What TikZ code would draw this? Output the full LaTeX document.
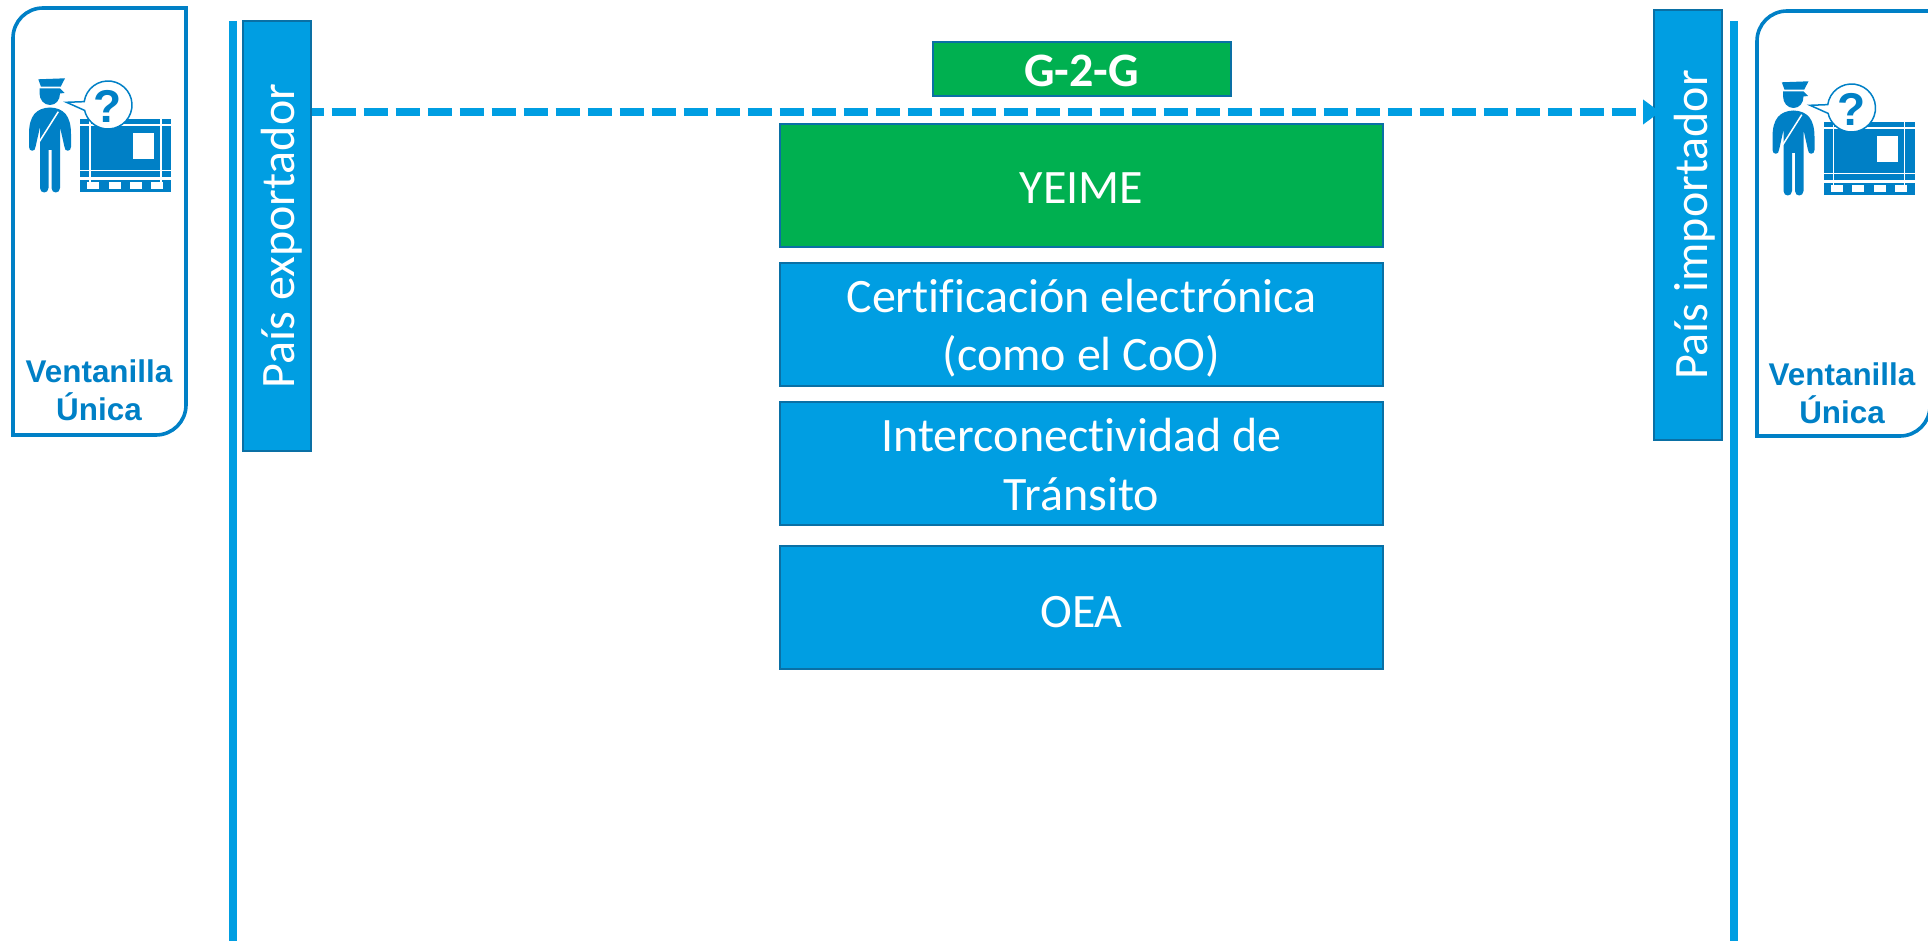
\documentclass[tikz,border=0pt]{standalone}
\usepackage{fontspec}
\setmainfont{Carlito}[Ligatures=NoCommon]
\newfontfamily\arialfont{Liberation Sans}
\usetikzlibrary{arrows.meta}
\definecolor{azul}{RGB}{0,158,226}
\definecolor{azulborde}{RGB}{10,112,165}
\definecolor{azulicono}{RGB}{0,128,198}
\definecolor{verde}{RGB}{0,176,80}
\tikzset{caja/.style={draw=azulborde,line width=1pt,inner sep=0pt}}
\tikzset{capa/.style={caja,minimum width=301.5pt,minimum height=61.5pt}}
\tikzset{pais/.style={caja,fill=azul,minimum width=34pt,minimum height=214.5pt}}
\tikzset{texto/.style={inner sep=0pt,align=center,text=white,font=\fontsize{24}{29.3}\selectfont}}
\tikzset{panel/.style={draw=azulicono,line width=1.8pt}}
\tikzset{linea/.style={draw=azul,line width=4pt}}
\tikzset{titulo/.style={align=center,inner sep=0pt,text=azulicono,font=\arialfont\bfseries\fontsize{15.7}{19}\selectfont}}
\tikzset{blanco/.style={draw=white,line width=0.75pt}}
\tikzset{agente/.pic={
    \fill[azulicono] (80,119) rectangle (171,192);
    \fill[white] (133,133) rectangle (154,159);
    \draw[blanco] (80,125) -- (171,125);
    \draw[blanco] (80,170.5) -- (171,170.5);
    \draw[blanco,line width=1.2pt] (80,178.5) -- (171,178.5);
    \draw[blanco] (90,119) -- (90,182);
    \draw[blanco] (161,119) -- (161,182);
    \foreach \x in {87.3,108.7,130,151.3}
        \fill[white] (\x,182.3) rectangle ++(12,7);
    \draw[azulicono,fill=white,line width=0.75pt] (66.5,102.3) -- (84.23,101.66) arc[start angle=188,end angle=527,radius=24] -- cycle;
    \node[text=azulicono,inner sep=0pt,font=\arialfont\bfseries\fontsize{23}{23}\selectfont] at (108,106) {?};
    \fill[azulicono] (38.3,79.3) -- (65,78.3) -- (60.7,86.7) -- (41,86.7) -- cycle;
    \fill[azulicono] (39.5,88.5) -- (60,88.5) -- (64.5,93) -- (60,93.5) .. controls (60,100) and (56,105) .. (50,105) .. controls (44,105) and (39.5,100) .. (39.5,93) -- cycle;
    \fill[azulicono] (50,107.5) .. controls (36,108) and (29,116) .. (29,134) -- (29,147) .. controls (29,152) and (35.5,152) .. (35.5,147) -- (40,127) -- (40,188) .. controls (40,194) and (48.5,194) .. (48.5,188) -- (48.5,150) -- (51.5,150) -- (51.5,188) .. controls (51.5,194) and (60,194) .. (60,188) -- (60,127) -- (64.5,147) .. controls (64.5,152) and (71,152) .. (71,147) -- (71,134) .. controls (71,116) and (64,108) .. (50,107.5) -- cycle;
    \draw[blanco] (58.3,111.7) -- (39.3,141.7);
}}

\begin{document}
\begin{tikzpicture}[x=0.5pt,y=-0.5pt]
    \useasboundingbox (0,0) rectangle (1928,941);

    \draw[panel] (13,435) [rounded corners=15pt] -- (13,8) [sharp corners] -- (186,8) [rounded corners=15pt] -- (186,435) [sharp corners] -- cycle;
    \draw[panel] (1757,436) [rounded corners=15pt] -- (1757,11) [sharp corners] -- (1930,11) [rounded corners=15pt] -- (1930,436) [sharp corners] -- cycle;

    \pic at (0,0) {agente};
    \pic at (1743.5,3) {agente};

    \node[titulo] (ventanillaA) at (99,390.5) {Ventanilla\\Única};
    \node[titulo] (ventanillaB) at (1842,393) {Ventanilla\\Única};

    \draw[linea] (233,21) -- (233,941);
    \draw[linea] (1734,21) -- (1734,941);

    \node[pais,label={[texto,xshift=2.8pt,rotate=90]center:País exportador}] (exportador) at (276.5,236) {};
    \node[pais,label={[texto,xshift=3.2pt,rotate=90]center:País importador}] (importador) at (1688,225) {};

    \node[caja,fill=verde,minimum width=149pt,minimum height=27pt,label={[texto,font=\bfseries\fontsize{24}{29.3}\selectfont,yshift=-1.2pt]center:G-2-G}] (gtog) at (1081.5,69) {};
    \node[capa,fill=verde,label={[texto,yshift=-1.2pt]center:YEIME}] (yeime) at (1081.5,186) {};
    \node[capa,fill=azul,label={[texto,yshift=-1.8pt]center:{Certificación electrónica\\(como el CoO)}}] (certificacion) at (1081.5,324.5) {};
    \node[capa,fill=azul,label={[texto,yshift=-0.6pt]center:{Interconectividad de\\Tránsito}}] (transito) at (1081.5,463.5) {};
    \node[capa,fill=azul,label={[texto,yshift=-2.2pt]center:OEA}] (oea) at (1081.5,607.5) {};

    \coordinate (punta) at (1660,112);
    \draw[azul,line width=4.2pt,dash pattern=on 12pt off 4pt,dash phase=6pt,-{Triangle[length=8.5pt,width=12pt]}] (exportador.east |- punta) -- (punta);
\end{tikzpicture}
\end{document}
